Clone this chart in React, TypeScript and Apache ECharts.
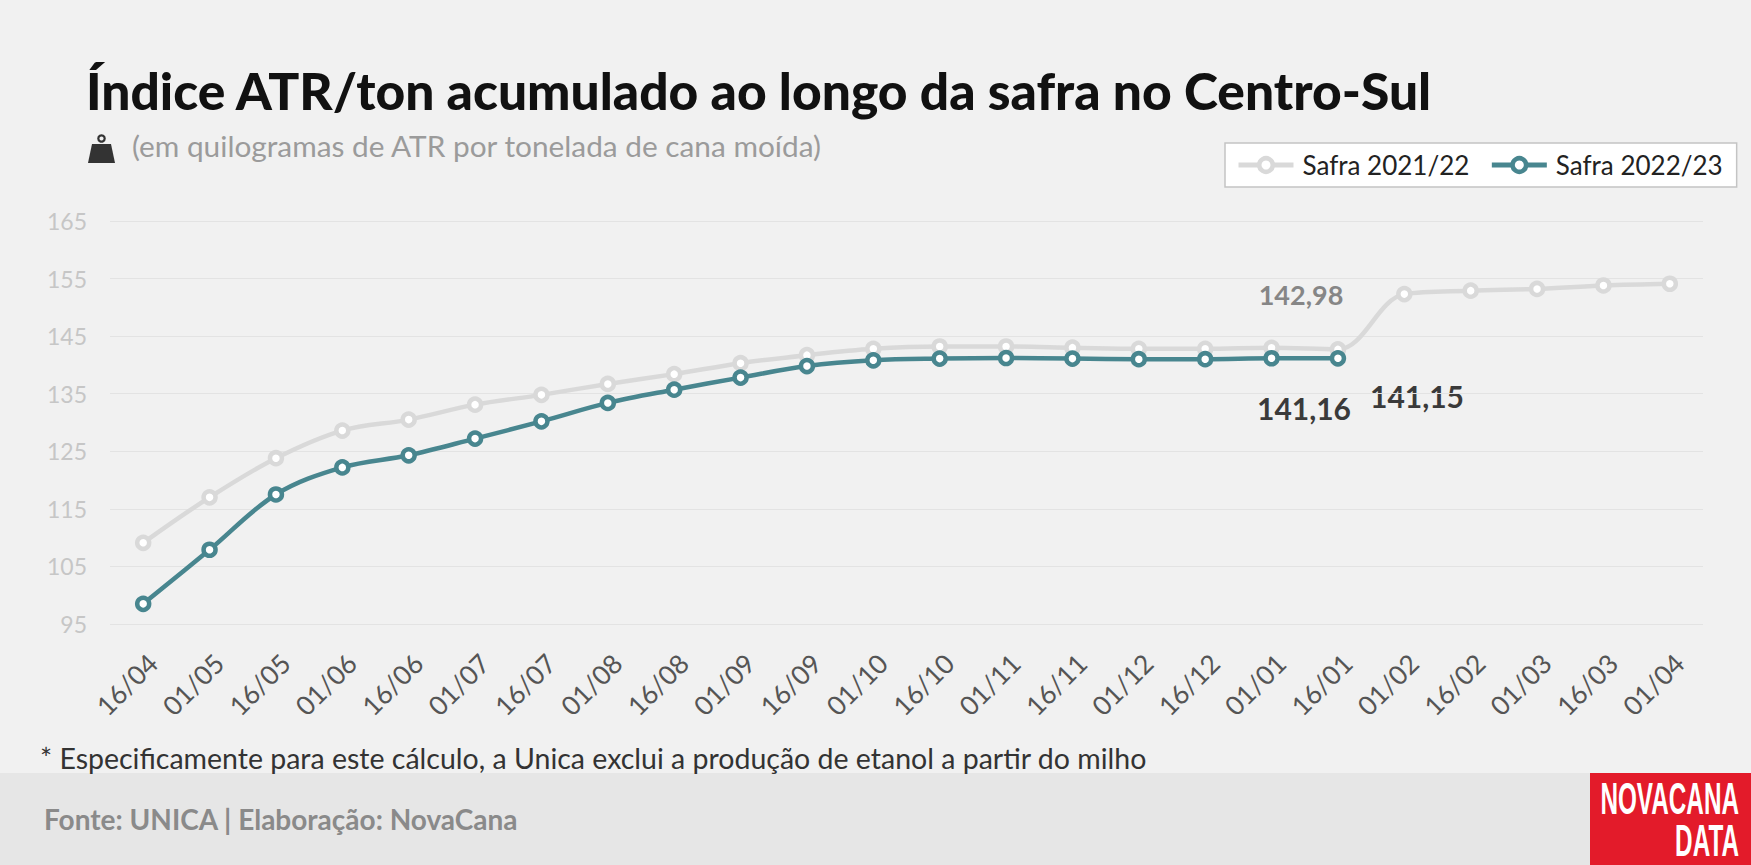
import React, { useEffect, useRef } from "react";
import * as echarts from "echarts";

const categories = [
  "16/04", "01/05", "16/05", "01/06", "16/06", "01/07", "16/07", "01/08",
  "16/08", "01/09", "16/09", "01/10", "16/10", "01/11", "16/11", "01/12",
  "16/12", "01/01", "16/01", "01/02", "16/02", "01/03", "16/03", "01/04",
];

const safra2122 = [
  109.1, 117.0, 123.8, 128.6, 130.5, 133.1, 134.8, 136.7,
  138.4, 140.3, 141.7, 142.8, 143.2, 143.2, 143.0, 142.8,
  142.8, 142.98, 142.7, 152.3, 152.9, 153.2, 153.8, 154.1,
];

const safra2223 = [
  98.5, 107.9, 117.5, 122.2, 124.3, 127.2, 130.2, 133.4,
  135.7, 137.8, 139.8, 140.8, 141.1, 141.2, 141.1, 141.0,
  141.0, 141.16, 141.15, null, null, null, null, null,
];

const seriesNames = ["Safra 2021/22", "Safra 2022/23"];
const yTicks = { min: 95, max: 165, interval: 10 };

const TITLE = "Índice ATR/ton acumulado ao longo da safra no Centro-Sul";
const SUBTITLE = "(em quilogramas de ATR por tonelada de cana moída)";
const NOTE = "* Especificamente para este cálculo, a Unica exclui a produção de etanol a partir do milho";
const SOURCE = "Fonte: UNICA | Elaboração: NovaCana";

const GRAY = "#d9d9d9";
const TEAL = "#48868f";
const FONT = "Lato, 'Noto Sans', sans-serif";
const LOGO_FONT = "bold 45px 'Liberation Sans', sans-serif";

export default function App() {
  const ref = useRef<HTMLDivElement>(null);

  useEffect(() => {
    if (!ref.current) return;
    const chart = echarts.init(ref.current, null, { renderer: "svg" });
    chart.setOption({
      animation: false,
      backgroundColor: "#f1f1f1",
      textStyle: { fontFamily: FONT },
      grid: { left: 110, right: 48, top: 221, bottom: 241, containLabel: false },
      legend: {
        left: 1225,
        top: 143,
        orient: "horizontal",
        backgroundColor: "#ffffff",
        borderColor: "#c4c4c4",
        borderWidth: 1.5,
        borderRadius: 0,
        padding: [9, 14, 9, 11],
        itemWidth: 55,
        itemHeight: 17,
        itemGap: 20,
        lineStyle: { width: 5 },
        itemStyle: { borderWidth: 4.5 },
        textStyle: { fontSize: 26, color: "#222", fontFamily: FONT, padding: [0, 0, 0, 4] },
        data: seriesNames,
      },
      xAxis: {
        type: "category",
        data: categories,
        boundaryGap: true,
        axisLine: { show: false },
        axisTick: { show: false },
        axisLabel: {
          rotate: 45,
          margin: 25,
          align: "right",
          verticalAlign: "top",
          fontSize: 26.5,
          color: "#555",
          fontFamily: FONT,
          interval: 0,
        },
      },
      yAxis: {
        type: "value",
        min: yTicks.min,
        max: yTicks.max,
        interval: yTicks.interval,
        axisLine: { show: false },
        axisTick: { show: false },
        axisLabel: { fontSize: 23, color: "#c6c6c6", margin: 23, fontFamily: FONT },
        splitLine: { lineStyle: { color: "#e3e3e3", width: 1 } },
      },
      series: [
        {
          name: seriesNames[0],
          type: "line",
          data: safra2122,
          smooth: 0.35,
          symbol: "circle",
          symbolSize: 12,
          z: 2,
          lineStyle: { color: GRAY, width: 4.5 },
          itemStyle: { color: "#ffffff", borderColor: GRAY, borderWidth: 4.5 },
        },
        {
          name: seriesNames[1],
          type: "line",
          data: safra2223,
          smooth: 0.35,
          symbol: "circle",
          symbolSize: 12,
          z: 3,
          lineStyle: { color: TEAL, width: 4.5 },
          itemStyle: { color: "#ffffff", borderColor: TEAL, borderWidth: 4.5 },
        },
      ],
      graphic: [
        {
          type: "text",
          left: 86,
          top: 64,
          style: { text: TITLE, font: `900 51.5px ${FONT}`, fill: "#111" },
        },
        {
          type: "circle",
          shape: { cx: 101.5, cy: 138.5, r: 3.2 },
          style: { fill: "none", stroke: "#333", lineWidth: 2.2 },
        },
        {
          type: "polygon",
          shape: { points: [[92, 144], [111, 144], [115, 163], [88, 163]] },
          style: { fill: "#333" },
        },
        {
          type: "text",
          left: 132,
          top: 130,
          style: { text: SUBTITLE, font: `normal 29.8px ${FONT}`, fill: "#9b9b9b" },
        },
        {
          type: "text",
          x: 1301,
          y: 294,
          style: { text: "142,98", font: `bold 27px ${FONT}`, fill: "#868686", align: "center", verticalAlign: "middle" },
        },
        {
          type: "text",
          x: 1304,
          y: 408,
          style: { text: "141,16", font: `bold 30px ${FONT}`, fill: "#3a3a3a", align: "center", verticalAlign: "middle" },
        },
        {
          type: "text",
          x: 1417,
          y: 396,
          style: { text: "141,15", font: `bold 30px ${FONT}`, fill: "#3a3a3a", align: "center", verticalAlign: "middle" },
        },
        {
          type: "text",
          x: 40,
          y: 758,
          style: { text: NOTE, font: `28.5px ${FONT}`, fill: "#333", verticalAlign: "middle" },
        },
        {
          type: "rect",
          shape: { x: 0, y: 773, width: 1751, height: 92 },
          style: { fill: "#e6e6e6" },
          z: -1,
        },
        {
          type: "text",
          x: 44,
          y: 819,
          style: { text: SOURCE, font: `bold 28px ${FONT}`, fill: "#8a8a8a", verticalAlign: "middle" },
        },
        {
          type: "rect",
          shape: { x: 1590, y: 773, width: 161, height: 92 },
          style: { fill: "#e31b2a" },
        },
        {
          type: "text",
          x: 1739,
          y: 798,
          scaleX: 0.54,
          style: { text: "NOVACANA", font: LOGO_FONT, fill: "#ffffff", align: "right", verticalAlign: "middle" },
        },
        {
          type: "text",
          x: 1739,
          y: 840,
          scaleX: 0.54,
          style: { text: "DATA", font: LOGO_FONT, fill: "#ffffff", align: "right", verticalAlign: "middle" },
        },
      ],
    });
    return () => chart.dispose();
  }, []);

  return (
    <div
      ref={ref}
      style={{ position: "fixed", left: 0, top: 0, width: 1751, height: 865 }}
    />
  );
}
